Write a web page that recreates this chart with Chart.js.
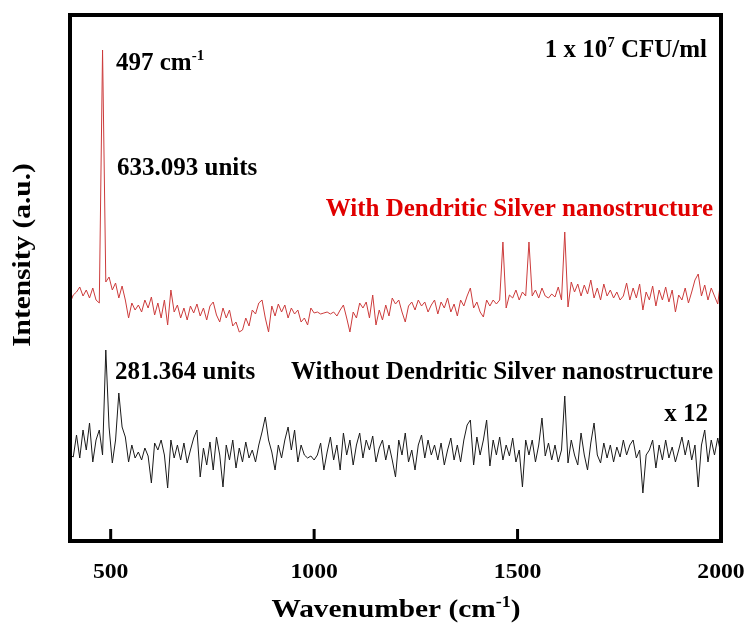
<!DOCTYPE html>
<html>
<head>
<meta charset="utf-8">
<script src="https://cdn.jsdelivr.net/npm/chart.js@4/dist/chart.umd.min.js"></script>
<style>
html,body{margin:0;padding:0;background:#fff;}
#wrap{width:749px;height:631px;position:relative;}
</style>
</head>
<body>
<div id="wrap"><canvas id="c" width="749" height="631"></canvas></div>
<script>
// Wavenumber grid (cm-1), 400..2000 in 8 cm-1 steps
const wavenumbers = [];
for (let w = 400; w <= 2000; w += 8) wavenumbers.push(w);

// With dendritic silver nanostructure (a.u.)
const withSilver = [
238,246,249,254,245,251,243,253,241,238,491,259,264,251,258,243,255,241,223,238,
231,236,229,241,233,244,226,238,223,241,216,251,229,236,223,233,221,235,228,237,
225,233,221,235,239,226,219,233,223,231,215,219,209,211,223,215,231,227,238,241,
223,209,235,225,237,229,236,223,233,227,231,219,223,216,233,228,229,227,228,229,
227,229,225,231,236,223,209,229,223,238,233,239,223,246,216,231,221,236,225,243,
237,241,229,219,235,239,231,241,235,239,229,236,241,227,239,233,243,229,237,225,
241,235,245,253,233,239,229,224,241,235,241,237,241,299,233,246,243,251,241,249,
245,299,245,251,243,253,245,243,247,244,254,241,309,234,259,249,257,245,256,247,
261,243,253,241,257,245,251,243,249,241,245,258,241,253,243,257,231,249,241,255,
235,251,241,254,239,251,229,246,241,253,238,249,261,267,245,256,241,253,245,237,
263
];

// Without dendritic silver nanostructure, x 12 (a.u.)
const withoutSilver = [
86,84,106,83,111,91,118,79,101,111,86,191,114,78,101,148,114,104,79,96,
83,89,81,93,85,58,98,91,101,86,53,101,83,96,81,98,78,91,103,111,
64,93,76,99,71,104,86,54,96,81,101,73,93,79,99,83,91,79,96,109,
124,101,89,71,96,83,101,114,91,111,79,96,86,83,85,81,86,98,71,89,
104,81,96,71,108,86,101,76,96,108,83,101,91,105,79,93,101,81,96,81,
64,101,86,108,79,91,71,96,106,83,101,86,96,81,98,76,91,103,81,96,
79,101,116,121,76,104,86,101,121,75,101,86,104,81,96,85,103,79,91,54,
101,86,101,79,96,123,85,98,81,96,79,91,145,78,101,86,76,108,86,71,
98,118,86,78,98,83,96,79,94,84,101,86,96,101,83,91,48,86,91,101,
73,96,81,101,83,94,79,91,104,86,101,81,96,54,96,111,79,101,86,103,
86
];

const xTickValues = [500, 1000, 1500, 2000];
const xTickLabels = ['500', '1000', '1500', '2000'];

const X_MIN = 400, X_MAX = 2000, Y_MIN = 0, Y_MAX = 526;

const SERIF = "'Liberation Serif', 'Times New Roman', serif";
const STRETCH = 1.13; // axis text in the figure is slightly widened

function textWithSup(ctx, parts, x, y, align, sx) {
  sx = sx || 1;
  let total = 0;
  const widths = parts.map(p => {
    ctx.font = p.sup ? p.supFont : p.font;
    const w = ctx.measureText(p.t).width;
    total += w;
    return w;
  });
  ctx.save();
  ctx.translate(x, y);
  ctx.scale(sx, 1);
  ctx.textAlign = 'left';
  let cx = align === 'right' ? -total : (align === 'center' ? -total / 2 : 0);
  parts.forEach((p, i) => {
    ctx.font = p.sup ? p.supFont : p.font;
    ctx.fillText(p.t, cx, p.sup ? -p.rise : 0);
    cx += widths[i];
  });
  ctx.restore();
}

const framePlugin = {
  id: 'frame',
  afterDraw(chart) {
    const ctx = chart.ctx;
    const a = chart.chartArea;
    const xs = chart.scales.x;
    ctx.save();
    // frame
    ctx.strokeStyle = '#000';
    ctx.lineWidth = 4;
    ctx.strokeRect(a.left, a.top, a.right - a.left, a.bottom - a.top);
    // inward ticks + tick labels
    ctx.lineWidth = 3;
    ctx.fillStyle = '#000';
    ctx.textBaseline = 'alphabetic';
    const fTick = 'bold 21px ' + SERIF;
    xTickValues.forEach((v, i) => {
      const px = xs.getPixelForValue(v);
      if (px > a.left + 3 && px < a.right - 3) {
        ctx.beginPath();
        ctx.moveTo(px, a.bottom);
        ctx.lineTo(px, a.bottom - 12);
        ctx.stroke();
      }
      textWithSup(ctx, [{t: xTickLabels[i], font: fTick}], px, 578, 'center', STRETCH);
    });

    const f25 = 'bold 25px ' + SERIF;
    const s15 = 'bold 15px ' + SERIF;
    // annotations
    textWithSup(ctx, [{t:'497 cm', font:f25}, {t:'-1', sup:true, supFont:s15, rise:10}], 116, 70, 'left');
    textWithSup(ctx, [{t:'633.093 units', font:f25}], 117, 175, 'left');
    textWithSup(ctx, [{t:'281.364 units', font:f25}], 115, 379, 'left');
    textWithSup(ctx, [{t:'1 x 10', font:f25}, {t:'7', sup:true, supFont:s15, rise:10}, {t:' CFU/ml', font:f25}], 707, 57, 'right');
    textWithSup(ctx, [{t:'Without Dendritic Silver nanostructure', font:f25}], 713, 379, 'right');
    textWithSup(ctx, [{t:'x 12', font:f25}], 708, 421, 'right');
    ctx.fillStyle = '#e00000';
    textWithSup(ctx, [{t:'With Dendritic Silver nanostructure', font:f25}], 713, 216, 'right');

    // axis titles
    ctx.fillStyle = '#000';
    const fT = 'bold 26px ' + SERIF;
    const sT = 'bold 16px ' + SERIF;
    textWithSup(ctx, [{t:'Wavenumber (cm', font:fT}, {t:'-1', sup:true, supFont:sT, rise:10}, {t:')', font:fT}], 396, 617, 'center', STRETCH);

    ctx.save();
    ctx.translate(30, 255);
    ctx.rotate(-Math.PI / 2);
    textWithSup(ctx, [{t:'Intensity (a.u.)', font:fT}], 0, 0, 'center', STRETCH);
    ctx.restore();
    ctx.restore();
  }
};

new Chart(document.getElementById('c'), {
  type: 'line',
  data: {
    labels: wavenumbers,
    datasets: [
      {
        label: 'With Dendritic Silver nanostructure',
        data: wavenumbers.map((w, i) => ({x: w, y: withSilver[i]})),
        borderColor: '#cc3b3b',
        borderWidth: 1,
        pointRadius: 0,
        tension: 0,
        fill: false
      },
      {
        label: 'Without Dendritic Silver nanostructure',
        data: wavenumbers.map((w, i) => ({x: w, y: withoutSilver[i]})),
        borderColor: '#1a1a1a',
        borderWidth: 1,
        pointRadius: 0,
        tension: 0,
        fill: false
      }
    ]
  },
  options: {
    responsive: false,
    animation: false,
    devicePixelRatio: 1,
    layout: { padding: { left: 70, right: 28, top: 15, bottom: 0 } },
    plugins: { legend: { display: false }, tooltip: { enabled: false } },
    scales: {
      x: {
        type: 'linear',
        min: X_MIN,
        max: X_MAX,
        grid: { display: false, drawTicks: false },
        border: { display: false },
        afterBuildTicks(scale) {
          scale.ticks = xTickValues.map(v => ({ value: v }));
        },
        afterFit(scale) {
          scale.height = 90;
          scale.paddingLeft = 0;
          scale.paddingRight = 0;
        },
        ticks: { display: false }
      },
      y: {
        display: false,
        min: Y_MIN,
        max: Y_MAX
      }
    }
  },
  plugins: [framePlugin]
});
</script>
</body>
</html>
